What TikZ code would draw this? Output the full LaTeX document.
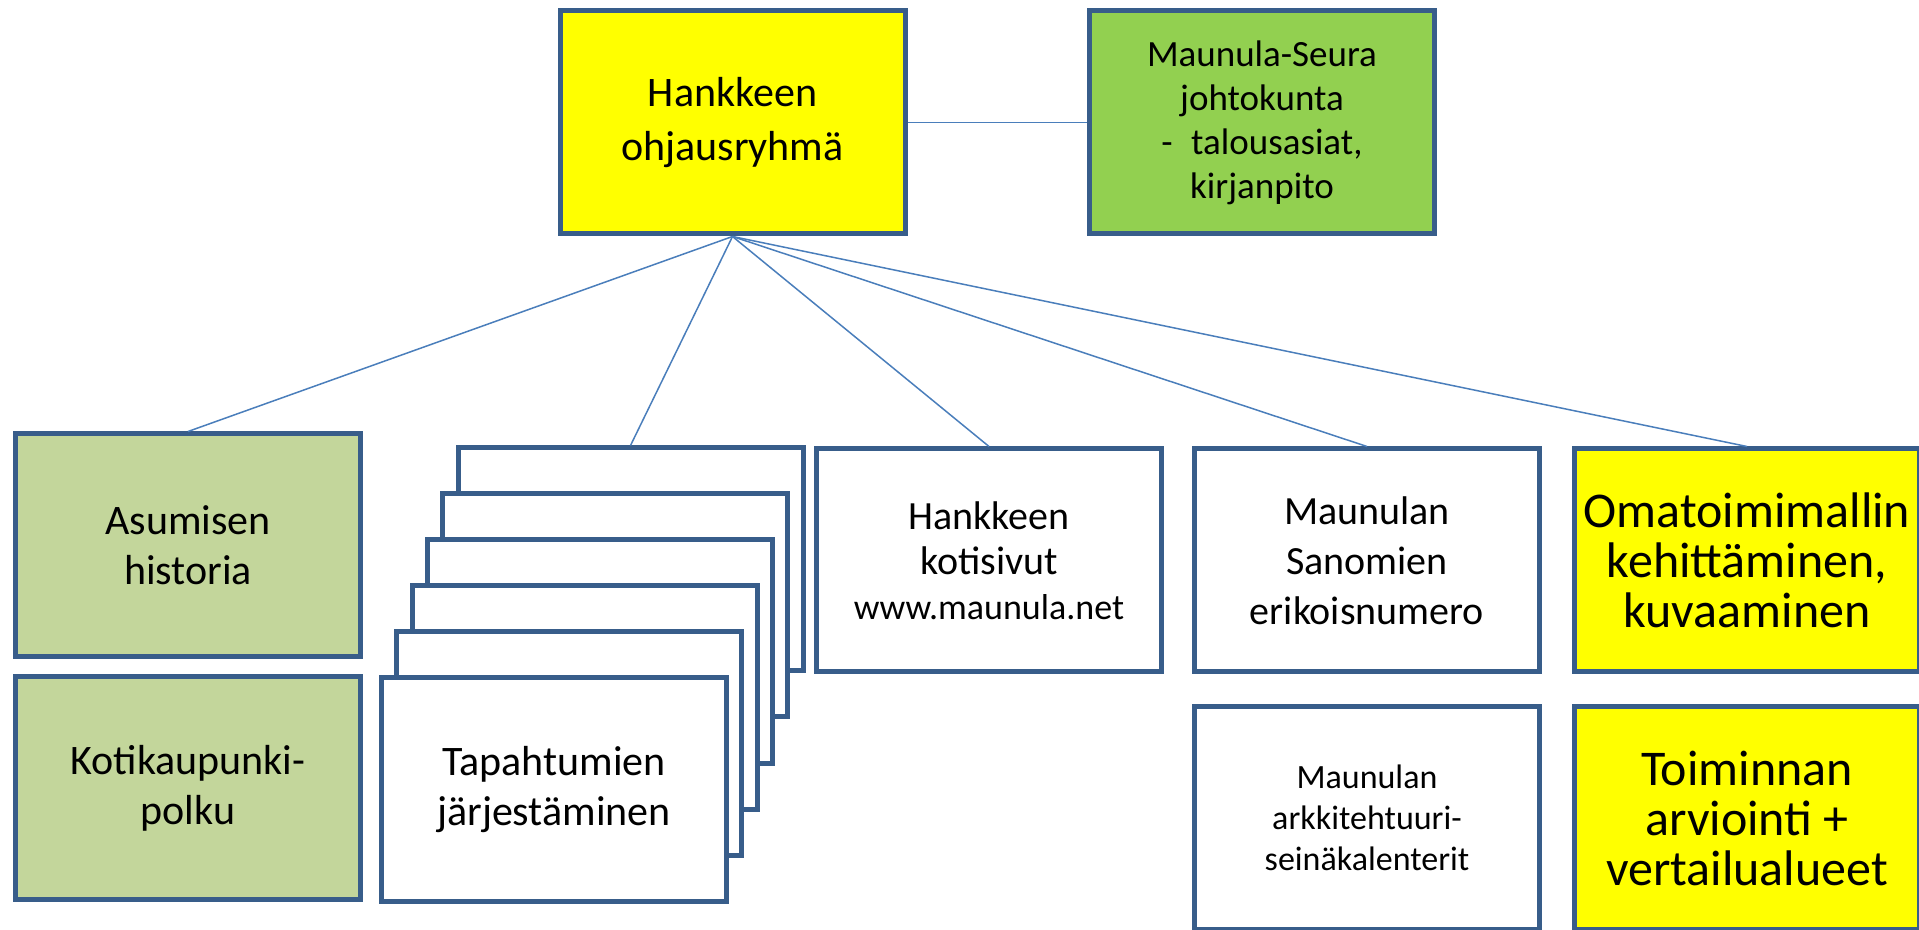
\documentclass[tikz,border=0pt]{standalone}
\usepackage{fontspec}
\setmainfont{Carlito}
\usetikzlibrary{positioning}
\definecolor{boxline}{HTML}{385D8A}
\definecolor{linkline}{HTML}{4A7EBB}
\definecolor{boxyellow}{HTML}{FFFF00}
\definecolor{boxgreen}{HTML}{92D050}
\definecolor{boxpale}{HTML}{C3D69B}
\tikzset{
  every picture/.style = {
    x = 0.5pt,
    y = -0.5pt,
  }
  ,
  box/.style = {
    rectangle,
    draw = boxline,
    line width = 2.5pt,
    fill = white,
    align = center,
    inner sep = 0pt,
    minimum width = 172.5pt,
    minimum height = 111.5pt,
    font = \fontsize{21}{25}\selectfont
  }
  , % connectors
  link/.style = {
    draw = linkline,
    line width = 0.75pt
  }
}

\begin{document}
\begin{tikzpicture}
\useasboundingbox (0,0) rectangle (1919,930);
\node[box, fill=boxyellow, font=\fontsize{21}{27}\selectfont] at (732.5,122.5) (ohjaus) {Hankkeen\\ohjausryhmä};
\node[box, fill=boxgreen, font=\fontsize{18.5}{22}\selectfont] at (1262,122.5) (seura) {Maunula-Seura\\johtokunta\\-\enspace talousasiat,\\kirjanpito};
\node[box, fill=boxpale] at (188,545.5) (asuminen) {Asumisen\\historia};
\node[box, fill=boxpale] at (188,788) (polku) {Kotikaupunki-\\polku};
% pile of event cards
\foreach \k in {5,4,...,1} {
  \node[box] at ({554+15.3*\k},{789.5-46*\k}) (ev\k) {};
}
\node[box] at (554,789.5) (tapahtumat) {Tapahtumien\\järjestäminen};
\node[box, font=\fontsize{20}{22.5}\selectfont] at (989,560.5) (kotisivut) {Hankkeen\\kotisivut\\{\fontsize{18}{21}\selectfont www.maunula.net}};
\node[box, font=\fontsize{20}{25}\selectfont] at (1367,560.5) (sanomat) {Maunulan\\Sanomien\\erikoisnumero};
\node[box, font=\fontsize{17}{20.5}\selectfont] at (1367,818) (kalenterit) {Maunulan\\arkkitehtuuri-\\seinäkalenterit};
\node[box, fill=boxyellow, font=\fontsize{25}{25}\selectfont] at (1747,560.5) (omatoimi) {Omatoimimallin\\kehittäminen,\\kuvaaminen};
\node[box, fill=boxyellow, font=\fontsize{25}{25}\selectfont] at (1747,818) (arviointi) {Toiminnan\\arviointi +\\vertailualueet};
\draw[link] (ohjaus.east) -- (seura.west);
\foreach \t in {asuminen,ev5,kotisivut,sanomat,omatoimi}
  \draw[link] (ohjaus.south) -- (\t.north);
\end{tikzpicture}
\end{document}
